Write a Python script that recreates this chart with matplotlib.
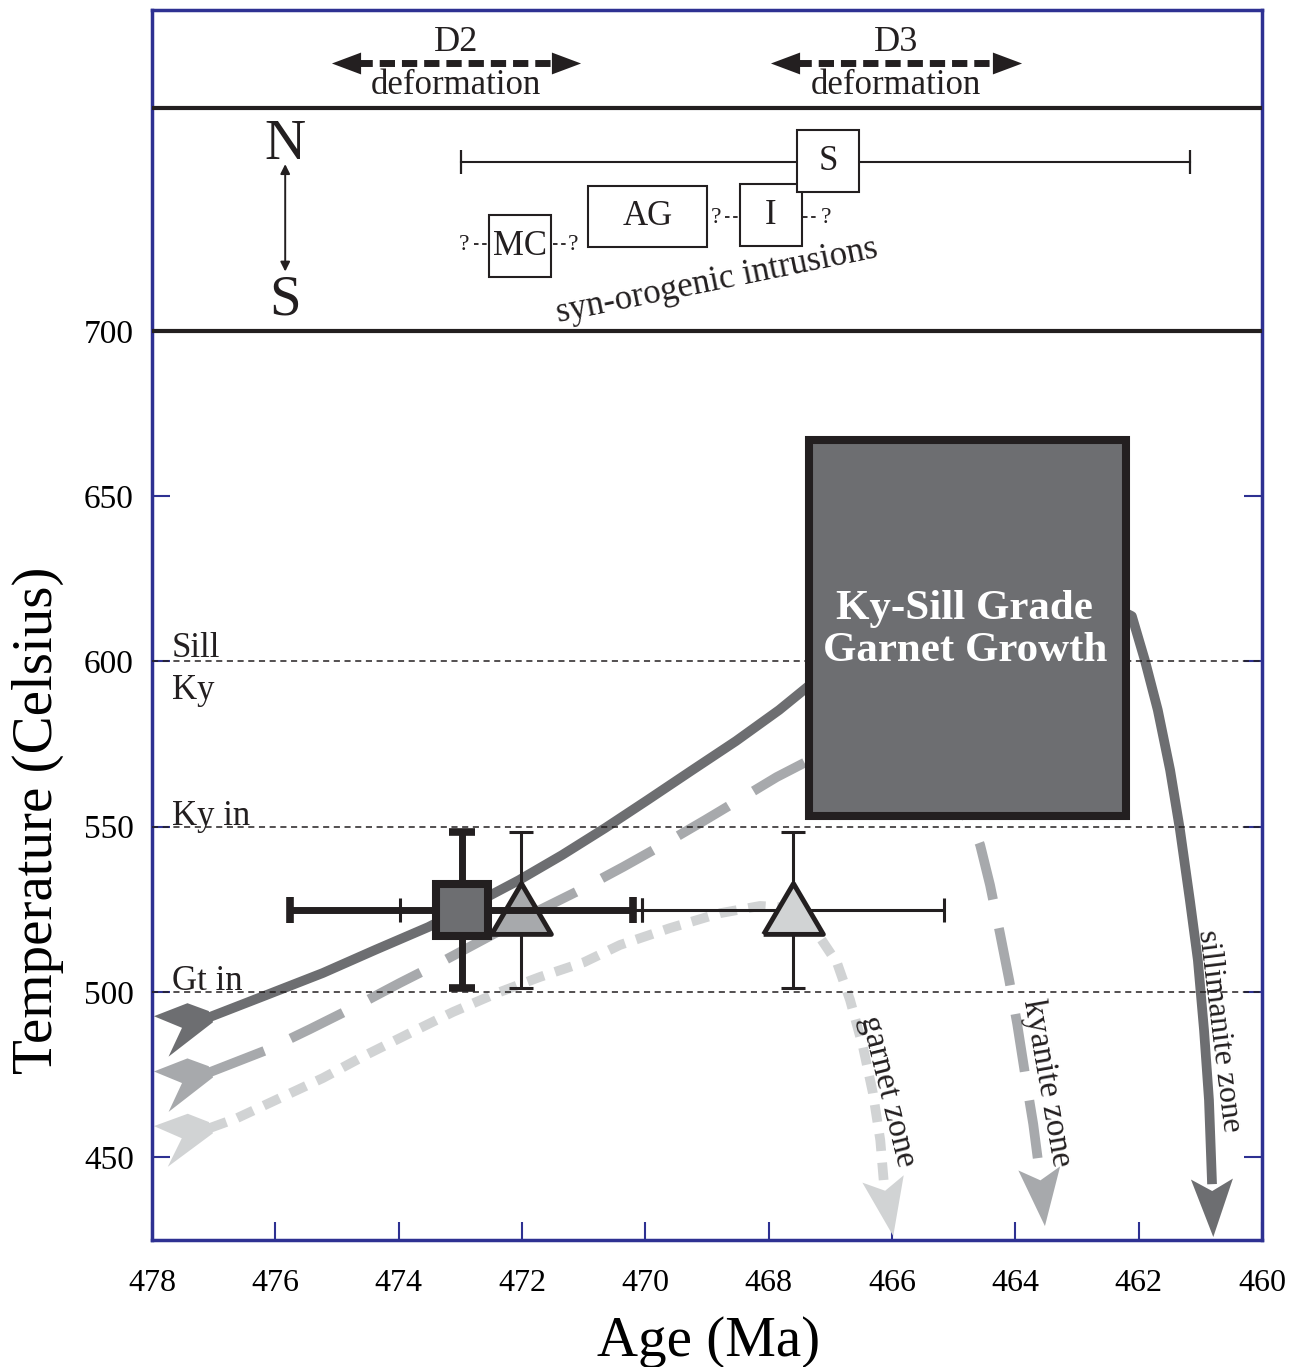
import matplotlib
matplotlib.use("Agg")
import matplotlib.pyplot as plt
import numpy as np
from matplotlib.patches import Rectangle, Polygon

plt.rcParams['font.family'] = ['Liberation Serif', 'DejaVu Serif']

INK = '#231f20'
NAVY = '#2e3192'
DARK = '#6d6e71'
MID = '#a7a9ac'
LIGHT = '#d1d3d4'

# isograds (deg C)
isograd_temps = [600, 550, 500]
isograd_labels = [('Sill', 601.3), ('Ky', 588.6), ('Ky in', 550.4), ('Gt in', 500.6)]

# P-T-t paths: age (Ma) and temperature (C), last point = arrow tip
sill_age = [477.06, 476.15, 475.23, 474.38, 473.52, 472.78, 472.05, 471.35,
            470.65, 469.96, 469.24, 468.53, 467.83, 467.33, 465.06, 462.63,
            462.11, 461.90, 461.69, 461.49, 461.33, 461.17, 461.04, 460.94,
            460.86, 460.83, 460.81, 460.79]
sill_temp = [492.4, 499.0, 505.7, 512.7, 519.6, 526.6, 533.8, 541.4,
             549.6, 558.1, 567.1, 575.9, 585.3, 592.9, 609.5, 618.6,
             613.7, 600.4, 585.3, 567.1, 549.0, 527.8, 509.6, 488.4,
             467.3, 452.1, 441.8, 425.8]

ky_age = [477.06, 476.14, 475.44, 474.72, 473.98, 473.25, 472.49, 471.71,
          471.03, 470.36, 469.70, 469.03, 468.43, 467.87, 467.33, 465.87,
          464.90, 464.69, 464.57, 464.41, 464.25, 464.10, 463.97, 463.84,
          463.71, 463.60, 463.52]
ky_temp = [475.7, 482.4, 488.7, 495.4, 502.7, 509.6, 517.2, 524.8,
           531.1, 537.8, 544.7, 552.0, 558.7, 565.0, 570.2, 564.1,
           555.0, 550.5, 544.4, 532.3, 517.8, 503.6, 490.3, 474.8,
           460.0, 444.3, 429.1]

gt_age = [477.06, 476.62, 475.92, 475.23, 474.53, 473.82, 473.12, 472.41,
          471.71, 470.99, 470.41, 469.60, 468.79, 468.14, 467.65, 467.33,
          467.14, 466.89, 466.68, 466.47, 466.31, 466.19, 466.13, 465.98]
gt_temp = [458.8, 461.8, 467.9, 473.9, 480.9, 487.5, 493.9, 499.6,
           504.5, 509.0, 514.2, 519.3, 523.8, 526.0, 525.4, 521.1,
           515.7, 508.7, 497.5, 483.3, 469.4, 455.1, 441.8, 426.1]

# garnet ages with uncertainties
sq_age, sq_temp, sq_xerr, sq_yerr = 472.98, 524.8, 2.78, 23.5
tri_age = [472.02, 467.61]
tri_temp = [524.8, 524.8]
tri_xerr = [1.96, 2.45]
tri_yerr = [23.5, 23.5]

# top panel: deformation events
deform_names = ['D2', 'D3']
deform_start = [475.1, 467.98]
deform_end = [471.05, 463.9]

# syn-orogenic intrusions (age range, N-S position)
intr_names = ['MC', 'AG', 'I', 'S']
intr_old = [472.54, 470.93, 468.47, 467.54]
intr_young = [471.53, 469.00, 467.46, 466.54]
intr_low = [716.3, 725.4, 725.7, 742.1]
intr_high = [735.1, 743.9, 744.5, 760.8]
s_range = (472.99, 461.17)

fig = plt.figure(figsize=(12.92, 13.67), dpi=100)
ax = fig.add_axes([152 / 1292, 1 - 1240 / 1367, 1110 / 1292, 1230 / 1367])
ax.set_xlim(478, 460)
ax.set_ylim(424.9, 797.15)

ax.set_xticks(np.arange(478, 459, -2))
ax.set_yticks([450, 500, 550, 600, 650, 700])
for s in ax.spines.values():
    s.set_color(NAVY)
    s.set_linewidth(2.5)
ax.tick_params(axis='x', direction='in', length=13, width=1.5, color=NAVY,
               labelsize=23, pad=21, top=False)
ax.tick_params(axis='y', direction='in', length=13, width=1.5, color=NAVY,
               labelsize=24, pad=13, right=True)

ax.set_xlabel('Age (Ma)', fontsize=41)
ax.xaxis.set_label_coords(0.501, -0.0943)
ax.xaxis.label.set_verticalalignment('baseline')
ax.set_ylabel('Temperature (Celsius)', fontsize=41)
ax.yaxis.set_label_coords(-0.0901, 0.3415)
ax.yaxis.label.set_verticalalignment('baseline')


def frame_poly(origin, toward, verts, color, z):
    # polygon given in pixel offsets along/across the direction origin->toward
    p0 = ax.transData.transform(origin)
    p1 = ax.transData.transform(toward)
    u = (p1 - p0) / np.hypot(*(p1 - p0))
    v = np.array([-u[1], u[0]])
    pts = np.array([p0 + a * u + b * v for a, b in verts])
    ax.add_patch(Polygon(ax.transData.inverted().transform(pts), closed=True,
                         facecolor=color, edgecolor='none', zorder=z))


head = [(0, 0), (-58, 21), (-46, 0), (-58, -21)]
tail = [(1, 6), (-16, 21), (-52, 21), (-30, 0), (-53, -22), (1, -6)]

paths = [(gt_age, gt_temp, LIGHT, (0, (1.8, 1.2))),
         (ky_age, ky_temp, MID, (0, (6, 3))),
         (sill_age, sill_temp, DARK, '-')]
for ages, temps, col, ls in paths:
    ax.plot(ages[:-1], temps[:-1], color=col, lw=7, ls=ls, zorder=2,
            solid_capstyle='butt', dash_capstyle='butt')
    tip, prev = (ages[-1], temps[-1]), (ages[-2], temps[-2])
    p_tip = ax.transData.transform(tip)
    p_prev = ax.transData.transform(prev)
    ahead = ax.transData.inverted().transform(2 * p_tip - p_prev)
    frame_poly(tip, ahead, head, col, 2.5)
    frame_poly((ages[0], temps[0]), (ages[1], temps[1]), tail, col, 2.5)

# isograd lines and labels
for t in isograd_temps:
    ax.axhline(t, color=INK, lw=1.1, ls=(0, (4, 3)), zorder=3)
for txt, y in isograd_labels:
    ax.text(477.68, y, txt, fontsize=25, va='baseline', ha='left', color=INK,
            zorder=3)

# Ky-Sill grade box
ax.add_patch(Rectangle((462.21, 553.2), 5.14, 113.8, facecolor=DARK,
                       edgecolor=INK, lw=5.8, zorder=4))
ax.text(464.82, 609.5, 'Ky-Sill Grade\nGarnet Growth', color='white',
        fontsize=31, fontweight='bold', ha='center', va='center',
        linespacing=1.12, zorder=4.5)

# garnet ages
tri_marker = [(-1, -0.8), (1, -0.8), (0, 0.9), (-1, -0.8)]
for a, t, xe, ye, fc in zip(tri_age, tri_temp, tri_xerr, tri_yerr, [MID, LIGHT]):
    ax.errorbar(a, t, xerr=xe, yerr=ye, fmt='none', ecolor=INK,
                elinewidth=2.2, capsize=8.5, capthick=2.2, zorder=5)
    ax.plot(a, t, marker=tri_marker, ms=43, mfc=fc, mec=INK, mew=3.5,
            ls='none', zorder=5.2)
ax.errorbar(sq_age, sq_temp, xerr=sq_xerr, yerr=sq_yerr, fmt='none',
            ecolor=INK, elinewidth=5, capsize=9.5, capthick=5.5, zorder=6)
ax.plot(sq_age, sq_temp, marker='s', ms=37, mfc=DARK, mec=INK, mew=5.8,
        ls='none', zorder=6.2)

# zone labels
ax.text(466.08, 470.0, 'garnet zone', rotation=-76, fontsize=24,
        ha='center', va='center', rotation_mode='anchor', color=INK)
ax.text(463.49, 472.4, 'kyanite zone', rotation=-80, fontsize=24,
        ha='center', va='center', rotation_mode='anchor', color=INK)
ax.text(460.70, 488.1, 'sillimanite zone', rotation=-83, fontsize=23,
        ha='center', va='center', rotation_mode='anchor', color=INK)

# top panel
ax.axhline(700, color=INK, lw=3, zorder=3)
ax.axhline(767.5, color=INK, lw=3, zorder=3)

deform_level = 781.0
for name, x0, x1 in zip(deform_names, deform_start, deform_end):
    ax.plot([x0 - 0.42, x1 + 0.42], [deform_level] * 2, color=INK, lw=5,
            ls=(0, (2.2, 1.0)), dash_capstyle='butt')
    ax.plot(x0 - 0.24, deform_level, marker=[(-1, 0), (1, 0.75), (1, -0.75), (-1, 0)],
            ms=21, color=INK, mew=0, ls='none')
    ax.plot(x1 + 0.24, deform_level, marker=[(1, 0), (-1, 0.75), (-1, -0.75), (1, 0)],
            ms=21, color=INK, mew=0, ls='none')
    mid = (x0 + x1) / 2
    ax.text(mid, 787.2, name, fontsize=26, ha='center', va='center', color=INK)
    ax.text(mid, 774.4, 'deformation', fontsize=25, ha='center', va='center',
            color=INK)

# N-S orientation
ax.text(475.84, 756.3, 'N', fontsize=41, ha='center', va='center', color=INK)
ax.text(475.84, 709.1, 'S', fontsize=41, ha='center', va='center', color=INK)
ax.annotate('', xy=(475.84, 718.0), xytext=(475.84, 750.5),
            arrowprops=dict(arrowstyle='<|-|>', color=INK, lw=1.4,
                            mutation_scale=14, shrinkA=0, shrinkB=0))

# S age range
ax.plot(s_range, [751.2, 751.2], color=INK, lw=1.5, marker='|', ms=17, mew=1.6)

for name, old, young, lo, hi in zip(intr_names, intr_old, intr_young, intr_low, intr_high):
    ax.add_patch(Rectangle((young, lo), old - young, hi - lo, facecolor='white',
                           edgecolor=INK, lw=1.5, zorder=3))
    ax.text((old + young) / 2, (lo + hi) / 2, name, fontsize=25, ha='center',
            va='center', color=INK, zorder=3.5)

# uncertain contacts between intrusions
for qx, qy in [(472.94, 726.3), (471.17, 726.3), (468.85, 734.5), (467.07, 734.5)]:
    ax.text(qx, qy, '?', fontsize=17, ha='center', va='center', color=INK)
for xa, xb, y in [(472.78, 472.54, 726.3), (471.50, 471.25, 726.3),
                  (468.71, 468.47, 734.5), (467.44, 467.18, 734.5)]:
    ax.plot([xa, xb], [y, y], color=INK, lw=1.3, ls=(0, (2.5, 2)))

ax.text(468.84, 715.0, 'syn-orogenic intrusions', rotation=11.5, fontsize=25,
        ha='center', va='center', rotation_mode='anchor', color=INK)

fig.savefig('out.png', dpi=100)
